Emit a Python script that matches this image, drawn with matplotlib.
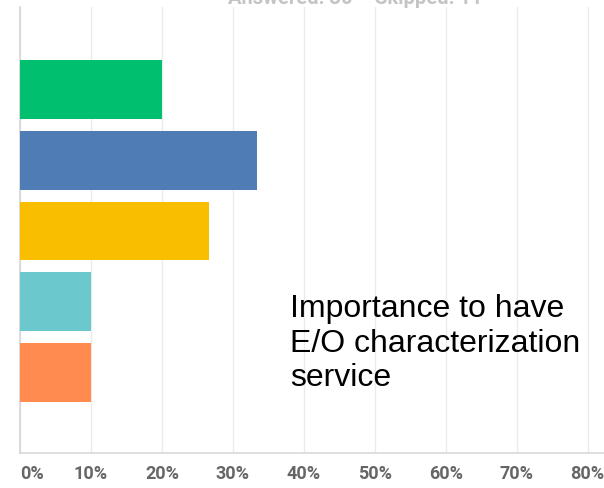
import matplotlib.pyplot as plt
from matplotlib.ticker import FixedLocator

# Survey response shares (30 answered)
answers = ["A", "B", "C", "D", "E"]
shares = [20.0, 33.33, 26.67, 10.0, 10.0]
colors = ["#00bf6f", "#507cb6", "#f9be00", "#6bc8cd", "#ff8b4f"]
tick_values = [0, 10, 20, 30, 40, 50, 60, 70, 80]
tick_labels = ["0%", "10%", "20%", "30%", "40%", "50%", "60%", "70%", "80%"]

W, H = 604, 489
fig = plt.figure(figsize=(W / 100, H / 100), dpi=100)
ax = fig.add_axes([20 / W, (H - 454) / H, 1 - 20 / W, (454 - 8) / H])

ypos = list(range(len(answers)))
ax.barh(ypos, shares, height=0.83, color=colors, zorder=3)

ax.set_xlim(0, 82.3)
ax.set_ylim(5.14, -1.17)
ax.set_yticks([])

ax.xaxis.set_major_locator(FixedLocator(tick_values))
ax.set_xticklabels(tick_labels)
ax.tick_params(axis="x", length=0, pad=8, labelsize=13, labelcolor="#666666")
for lab in ax.get_xticklabels():
    lab.set_fontfamily("Roboto")
    lab.set_fontweight("bold")
ax.get_xticklabels()[0].set_horizontalalignment("left")

ax.grid(axis="x", color="#ebebeb", linewidth=1, zorder=0)
for side in ["top", "right"]:
    ax.spines[side].set_visible(False)
ax.spines["left"].set_color("#d6d6d6")
ax.spines["bottom"].set_color("#d9d9d9")
ax.spines["left"].set_linewidth(1.2)
ax.spines["bottom"].set_linewidth(1.2)

# header line, partly cut off at the top edge
fig.text(228 / W, 1 - 4 / H, "Answered: 30", ha="left", va="baseline",
         fontsize=14.5, fontweight="bold", color="#c4c4c4", family="Roboto")
fig.text(375 / W, 1 - 4 / H, "Skipped: 11", ha="left", va="baseline",
         fontsize=14.5, fontweight="bold", color="#c4c4c4", family="Roboto")

fig.text(290 / W, 1 - 294 / H, "Importance to have\nE/O characterization\nservice",
         ha="left", va="top", fontsize=23, color="black",
         family="Liberation Sans", linespacing=1.2)

fig.savefig("out.png", dpi=100)
